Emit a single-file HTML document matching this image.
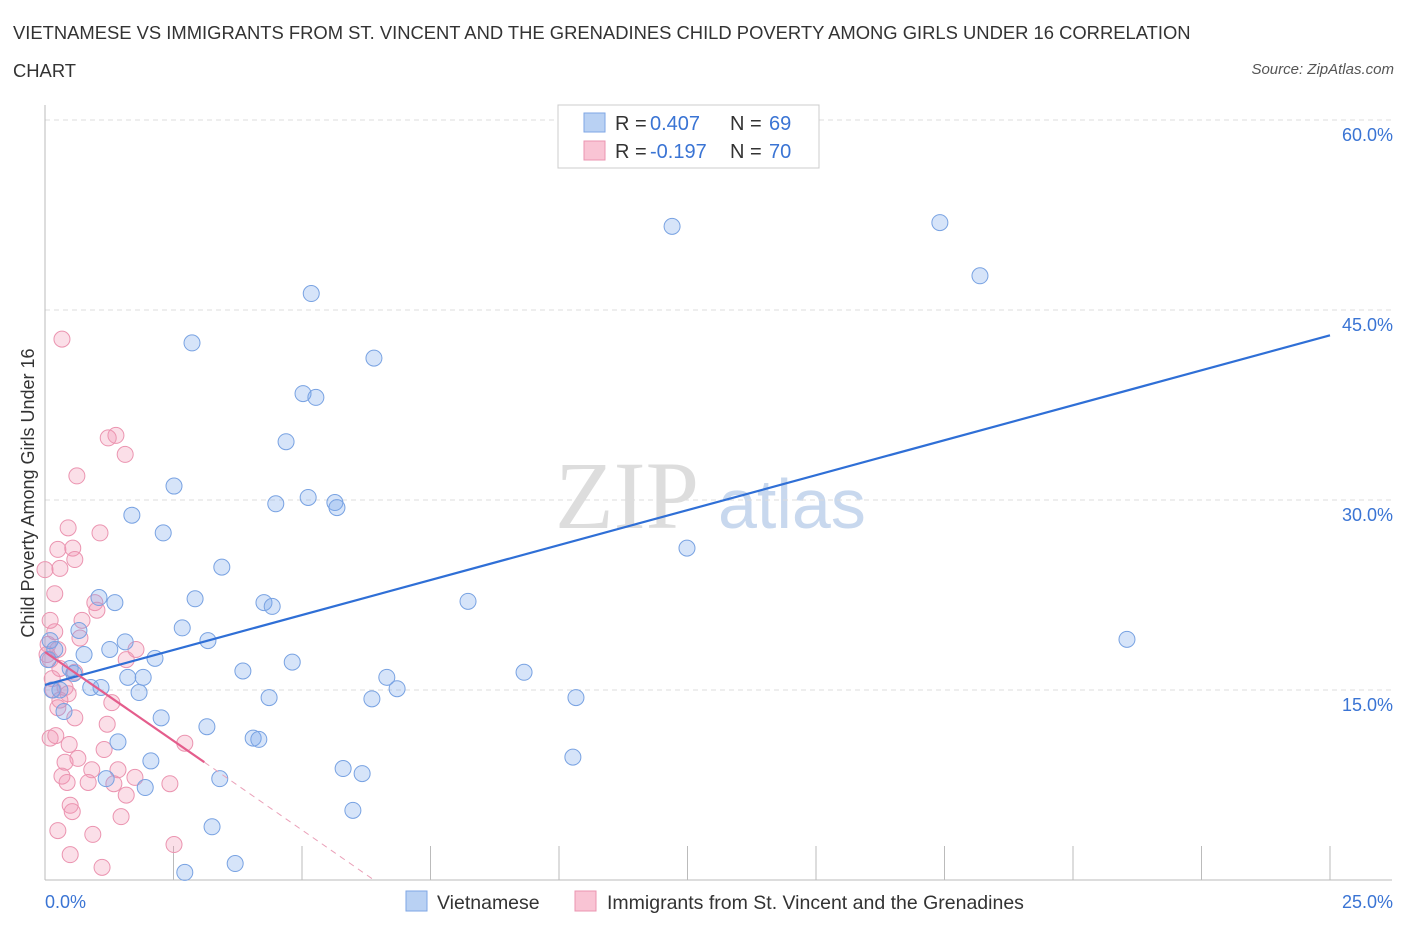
<!DOCTYPE html>
<html><head><meta charset="utf-8">
<style>
body{margin:0;background:#fff;font-family:"Liberation Sans",sans-serif;}
#wrap{position:relative;width:1406px;height:930px;overflow:hidden}
.title{position:absolute;left:13px;top:14px;font-size:18.4px;color:#333;line-height:38px;width:1220px}
.src{position:absolute;right:12px;top:61px;font-size:15px;font-style:italic;color:#555}
</style></head><body>
<div id="wrap">
<div class="title">VIETNAMESE VS IMMIGRANTS FROM ST. VINCENT AND THE GRENADINES CHILD POVERTY AMONG GIRLS UNDER 16 CORRELATION CHART</div>
<div class="src">Source: ZipAtlas.com</div>
<svg id="svg" width="1406" height="930" style="position:absolute;left:0;top:0"></svg>
</div>
<script>
const xTicks=[0,2.5,5,7.5,10,12.5,15,17.5,20,22.5,25];
const yTicks=[15,30,45,60];
const blueX=[(672-45)/51.4,(940-45)/51.4,(980-45)/51.4,(311-45)/51.4,(192-45)/51.4,(374-45)/51.4,(303-45)/51.4,(316-45)/51.4,(286-45)/51.4,(174-45)/51.4,(308-45)/51.4,(335-45)/51.4,(337-45)/51.4,(276-45)/51.4,(132-45)/51.4,(163-45)/51.4,(687-45)/51.4,(222-45)/51.4,(99-45)/51.4,(115-45)/51.4,(195-45)/51.4,(264-45)/51.4,(272-45)/51.4,(468-45)/51.4,(182-45)/51.4,(208-45)/51.4,(1127-45)/51.4,(125-45)/51.4,(79-45)/51.4,(110-45)/51.4,(155-45)/51.4,(84-45)/51.4,(292-45)/51.4,(243-45)/51.4,(524-45)/51.4,(128-45)/51.4,(143-45)/51.4,(387-45)/51.4,(74-45)/51.4,(52-45)/51.4,(60-45)/51.4,(91-45)/51.4,(101-45)/51.4,(139-45)/51.4,(397-45)/51.4,(269-45)/51.4,(372-45)/51.4,(576-45)/51.4,(64-45)/51.4,(161-45)/51.4,(207-45)/51.4,(118-45)/51.4,(253-45)/51.4,(259-45)/51.4,(151-45)/51.4,(573-45)/51.4,(343-45)/51.4,(362-45)/51.4,(220-45)/51.4,(106-45)/51.4,(145-45)/51.4,(353-45)/51.4,(212-45)/51.4,(235-45)/51.4,(185-45)/51.4,(50-45)/51.4,(55-45)/51.4,(48-45)/51.4,(70-45)/51.4].map(v=>+v.toFixed(2));
const blueY=[227,222,276,293,343,358,393,397,442,486,497,502,508,504,515,533,548,567,598,602,599,603,606,601,628,640,639,642,630,650,658,655,662,671,672,677,677,677,673,690,690,688,688,693,689,697,699,698,712,718,727,742,738,739,761,757,768,774,779,779,788,810,827,864,873,640,650,660,668].map(p=>+((880-p)/12.667).toFixed(1));
const pinkX=[62,116,108,125,77,68,100,58,73,75,60,45,55,95,97,82,80,55,48,136,126,50,60,75,52,65,68,60,58,112,75,107,50,56,69,104,78,65,92,118,62,135,67,88,114,170,126,70,72,121,58,93,174,70,102,185,50,47,58,53].map(p=>+((p-45)/51.4).toFixed(2));
const pinkY=[339,436,438,454,476,528,533,550,548,560,568,570,594,602,610,620,638,632,645,650,660,660,668,672,678,688,694,700,708,703,718,724,738,736,744,750,758,762,770,770,776,778,782,783,784,784,795,805,812,817,830,834,845,855,867,743,620,655,650,690].map(p=>+((880-p)/12.667).toFixed(1));
const blueLine=[[0,15.4],[25,43.0]];
const pinkLine=[[0,18.0],[3.1,9.3]];
const pinkDash=[[3.1,9.3],[6.4,0]];

const NS="http://www.w3.org/2000/svg";
const svg=document.getElementById('svg');
const X=v=>45+v*51.4, Y=v=>880-v*12.667;
function mk(t,a,p){const e=document.createElementNS(NS,t);for(const k in a)e.setAttribute(k,a[k]);(p||svg).appendChild(e);return e;}

let w=mk('text',{x:555,y:528,'font-size':96,'font-family':'Liberation Serif,serif',fill:'#ddd'});w.textContent='ZIP';


w=mk('text',{x:718,y:528,'font-size':70,'font-family':'Liberation Sans,sans-serif',fill:'#c8d8ee'});w.textContent='atlas';



yTicks.forEach(t=>{
 const l=mk('line',{x1:45,x2:1392,y1:Y(t),y2:Y(t),stroke:'#ddd','stroke-dasharray':'5,4'});
 
 
 const tx=mk('text',{x:1393,y:Y(t)+21,'text-anchor':'end','font-size':18,fill:'#3a74d4'});tx.textContent=t.toFixed(1)+'%';
 
 
});
let ax=mk('line',{x1:45,x2:45,y1:105,y2:880,stroke:'#bbb'});


ax=mk('line',{x1:45,x2:1392,y1:880,y2:880,stroke:'#bbb'});


xTicks.forEach(t=>{if(t===0)return;const l=mk('line',{x1:X(t),x2:X(t),y1:846,y2:880,stroke:'#bbb'});
 
 });
let tl=mk('text',{x:45,y:908,'font-size':18,fill:'#3a74d4'});tl.textContent='0.0%';


tl=mk('text',{x:1393,y:908,'text-anchor':'end','font-size':18,fill:'#3a74d4'});tl.textContent='25.0%';


tl=mk('text',{x:34,y:493,'text-anchor':'middle','font-size':18,fill:'#333',transform:'rotate(-90 34 493)'});tl.textContent='Child Poverty Among Girls Under 16';



pinkX.forEach((x,i)=>{const c=mk('circle',{cx:X(x),cy:Y(pinkY[i]),r:8,fill:'rgba(243,150,180,0.3)',stroke:'#eb94b0','stroke-width':1});
 
 });
blueX.forEach((x,i)=>{const c=mk('circle',{cx:X(x),cy:Y(blueY[i]),r:8,fill:'rgba(120,165,235,0.3)',stroke:'#78a2e2','stroke-width':1});
 
 });

let ln=mk('line',{x1:X(blueLine[0][0]),y1:Y(blueLine[0][1]),x2:X(blueLine[1][0]),y2:Y(blueLine[1][1]),stroke:'#2f6fd6','stroke-width':2.2});


ln=mk('line',{x1:X(pinkLine[0][0]),y1:Y(pinkLine[0][1]),x2:X(pinkLine[1][0]),y2:Y(pinkLine[1][1]),stroke:'#e45d8c','stroke-width':2.2});


ln=mk('line',{x1:X(pinkDash[0][0]),y1:Y(pinkDash[0][1]),x2:X(pinkDash[1][0]),y2:Y(pinkDash[1][1]),stroke:'#eaa0b8','stroke-width':1,'stroke-dasharray':'6,5'});



const g=mk('g',{});


mk('rect',{x:558,y:105,width:261,height:63,fill:'#fff',stroke:'#ccc'},g);
mk('rect',{x:584,y:113,width:21,height:19,fill:'#b9d1f3',stroke:'#7ea6e4'},g);
mk('rect',{x:584,y:141,width:21,height:19,fill:'#f9c4d4',stroke:'#eb94b0'},g);
[[0,'0.407','69'],[1,'-0.197','70']].forEach(([i,r,n])=>{
 const yy=130+i*28;
 let t=mk('text',{x:615,y:yy,'font-size':20,fill:'#333'},g);t.textContent='R = ';
 t=mk('text',{x:650,y:yy,'font-size':20,fill:'#3a74d4'},g);t.textContent=r;
 t=mk('text',{x:730,y:yy,'font-size':20,fill:'#333'},g);t.textContent='N = ';
 t=mk('text',{x:769,y:yy,'font-size':20,fill:'#3a74d4'},g);t.textContent=n;
});
let r=mk('rect',{x:406,y:891,width:21,height:20,fill:'#b9d1f3',stroke:'#7ea6e4'});


let t=mk('text',{x:437,y:909,'font-size':19.5,fill:'#333'});t.textContent='Vietnamese';


r=mk('rect',{x:575,y:891,width:21,height:20,fill:'#f9c4d4',stroke:'#eb94b0'});


t=mk('text',{x:607,y:909,'font-size':19.5,fill:'#333'});t.textContent='Immigrants from St. Vincent and the Grenadines';


</script>
</body></html>
